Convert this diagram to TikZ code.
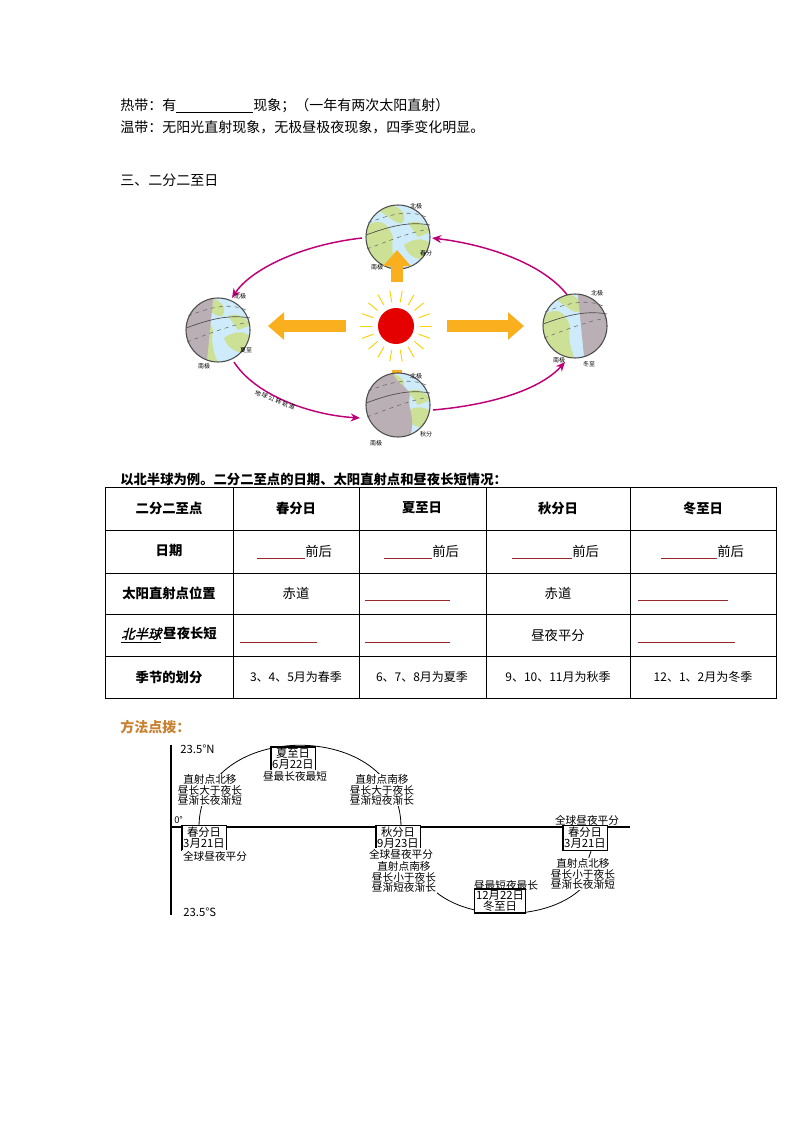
\documentclass[tikz,border=0pt]{standalone}
\usepackage{fontspec}
\setmainfont{Noto Sans CJK SC}
\newfontfamily\slantcjk[FakeSlant=0.25,FakeBold=1.5]{Noto Sans CJK SC}
\usetikzlibrary{arrows.meta,calc}
\definecolor{orb}{RGB}{190,0,120}
\definecolor{org}{RGB}{250,175,30}
\definecolor{sea}{RGB}{205,235,250}
\definecolor{land}{RGB}{205,225,150}
\definecolor{night}{RGB}{185,175,180}
\definecolor{blank}{RGB}{150,40,40}
\definecolor{brown}{RGB}{200,130,50}
\tikzset{
 txt/.style={anchor=west,font=\fontsize{10.5}{12}\selectfont,inner sep=0},
 cell/.style={font=\fontsize{10}{12}\selectfont,inner sep=0},
 tiny/.style={font=\fontsize{4.5}{5}\selectfont,inner sep=0},
 orbit/.style={orb,line width=1.1pt,-{Stealth[length=7pt,width=6pt]}},
 bigarr/.style={org,line width=9pt,-{Triangle[length=12pt,width=20pt]}},
 dl/.style={font=\fontsize{8}{8}\selectfont,inner sep=0.5pt,fill=white,align=center},
 bx/.style={draw,line width=0.9pt,inner sep=1pt,fill=white,font=\fontsize{8.5}{8.5}\selectfont,align=center},
 bl/.style={blank,line width=0.6pt}
}
\newcommand{\globe}[3]{%
 \begin{scope}[shift={#1}]
  \begin{scope}
  \clip (0,0) circle [radius=32];
  \fill[sea] (-32,-32) rectangle (32,32);
  \fill[land] (-32,-10) .. controls (-20,-20) and (-10,-15) .. (-5,0) .. controls (-8,15) and (-2,28) .. (0,33) -- (-20,30) .. controls (-34,10) .. cycle;
  \fill[land] (6,8) .. controls (20,-2) and (30,3) .. (33,8) -- (33,22) .. controls (20,24) and (10,20) .. (6,8) -- cycle;
  \fill[land] (-25,-30) .. controls (-10,-22) and (0,-10) .. (5,-15) .. controls (10,-25) and (0,-30) .. (-10,-34) -- cycle;
  \fill[land] (10,-14) .. controls (20,-18) and (28,-12) .. (33,-5) -- (20,0) -- cycle;
  #2
  \end{scope}
  \draw[black!60,dashed,line width=0.4pt] (-31,12) .. controls (-10,4) and (10,-4) .. (31,-8);
  \draw[black!60,dashed,line width=0.4pt] (-30,-14) .. controls (-10,-22) and (10,-28) .. (28,-20);
  \draw[black!70,line width=0.5pt] (-32,-2) .. controls (-10,-10) and (10,-16) .. (32,-12);
  \draw[black!70,line width=0.8pt] (0,0) circle [radius=32];
  #3
 \end{scope}}
\begin{document}
\begin{tikzpicture}[x=0.75pt,y=-0.75pt]
\useasboundingbox[fill=white] (0,0) rectangle (794,1123);
\node[txt] (t1) at (120,106) {热带：有\underline{\hspace{5.5em}}现象；（一年有两次太阳直射）};
\node[txt] (t2) at (120,127) {温带：无阳光直射现象，无极昼极夜现象，四季变化明显。};
\node[txt] (t3) at (120,180) {三、二分二至日};
% orbit
\draw[orbit] (362,238) .. controls (300,245) and (250,270) .. (232,298);
\draw[orbit] (234,362) .. controls (255,395) and (310,415) .. (360,418);
\draw[orbit] (433,410) .. controls (490,405) and (540,390) .. (565,362);
\draw[orbit] (568,296) .. controls (545,265) and (490,245) .. (432,238);
\node[tiny,rotate=-22] (orbl) at (275,400) {地\ 球\ 公\ 转\ 轨\ 道};
% sun
\foreach \a in {0,20,...,340}{\draw[yellow!70!orange,line width=0.7pt] ($(396,326)+(\a:24)$) -- ($(396,326)+(\a:36)$);}
\fill[red!90!black] (396,326) circle [radius=18];
\node (sun) at (396,326) {};
\draw[bigarr] (346,326) -- (268,326);
\draw[bigarr] (447,326) -- (524,326);
\fill[org] (392,370) rectangle (402,384);
% globes
\globe{(398,237)}{}{\node[tiny] at (18,-31) {北极}; \node[tiny] at (28,16) {春分}; \node[tiny] at (-21,30) {南极};}
\globe{(218,330)}{\fill[night] (-40,-40) -- (-4,-40) -- (-12,40) -- (-40,40) -- cycle;}{\node[tiny] at (22,-34) {北极}; \node[tiny] at (28,20) {夏至}; \node[tiny] at (-14,36) {南极};}
\globe{(575,326)}{\fill[night] (40,-40) -- (2,-40) -- (10,40) -- (40,40) -- cycle;}{\node[tiny] at (22,-33) {北极}; \node[tiny] at (-16,34) {南极}; \node[tiny] at (14,38) {冬至};}
\globe{(398,405)}{\fill[night] (-40,-40) -- (-8,-40) .. controls (-2,-18) and (8,-22) .. (12,-10) .. controls (8,5) and (20,10) .. (10,40) -- (-40,40) -- cycle;}{\node[tiny] at (18,-29) {北极}; \node[tiny] at (28,29) {秋分}; \node[tiny] at (-22,38) {南极};}
\draw[bigarr] (397,282) -- (397,250);
% table
\node[anchor=west,inner sep=0,font=\bfseries\fontsize{10}{12}\selectfont] (cap) at (120,479) {以北半球为例。二分二至点的日期、太阳直射点和昼夜长短情况：};
\draw[line width=0.6pt] (105,487) rectangle (776,698);
\foreach \y in {530,573,614,656} \draw[line width=0.6pt] (105,\y) -- (776,\y);
\foreach \x in {233,359,486,630} \draw[line width=0.6pt] (\x,487) -- (\x,698);
\node[cell] (h0) at (169,508) {\bfseries 二分二至点};
\node[cell] (h1) at (296,508) {\bfseries 春分日};
\node[cell] (h2) at (422,508) {\bfseries 夏至日};
\node[cell] (h3) at (558,508) {\bfseries 秋分日};
\node[cell] (h4) at (703,508) {\bfseries 冬至日};
\node[cell] (r1) at (169,551) {\bfseries 日期};
\node[cell] (r2) at (169,593) {\bfseries 太阳直射点位置};
\node[cell] (r3) at (169,635) {\underline{\slantcjk 北半球}\,\bfseries 昼夜长短};
\node[cell] (r4) at (169,677) {\bfseries 季节的划分};
\foreach \a/\b/\c in {257/305/305, 384/432/432, 512/572/572, 661/717/717}{\draw[bl] (\a,558) -- (\b,558); \node[cell,anchor=west] at (\c,551) {前后};}
\node[cell] at (296,593) {赤道};
\node[cell] at (558,593) {赤道};
\node[cell] at (558,635) {昼夜平分};
\draw[bl] (365,600) -- (450,600);
\draw[bl] (638,600) -- (728,600);
\draw[bl] (240,642) -- (317,642);
\draw[bl] (365,642) -- (450,642);
\draw[bl] (638,642) -- (735,642);
\node[cell,font=\fontsize{9}{11}\selectfont] at (296,677) {3、4、5月为春季};
\node[cell,font=\fontsize{9}{11}\selectfont] at (422,677) {6、7、8月为夏季};
\node[cell,font=\fontsize{9}{11}\selectfont] at (558,677) {9、10、11月为秋季};
\node[cell,font=\fontsize{9}{11}\selectfont] at (703,677) {12、1、2月为冬季};
% method
\node[anchor=west,inner sep=0,text=brown,font=\bfseries\fontsize{10.5}{12}\selectfont] (m) at (120,727) {方法点拨：};
\draw[line width=0.8pt] (171,745) -- (171,915);
\draw[line width=1.2pt] (171,827) -- (630,827);
\draw[line width=0.6pt] (199,827) .. controls (199,718) and (401,718) .. (401,827);
\draw[line width=0.6pt] (425,880) .. controls (455,925) and (560,925) .. (590,878);
\draw[line width=0.6pt] (592,848) -- (588,860);
\node[font=\fontsize{8.5}{9}\selectfont,inner sep=0,anchor=west] (n) at (180,749) {23.5°N};
\node[font=\fontsize{8.5}{9}\selectfont,inner sep=0,anchor=west] (s) at (183,912) {23.5°S};
\node[font=\fontsize{7}{8}\selectfont,inner sep=0,anchor=west] (z) at (174,820) {0°};
\node[bx] (xz) at (293,759) {夏至日\\6月22日};
\node[dl] (xz2) at (295,776) {昼最长夜最短};
\node[dl,anchor=west] (a1) at (177,790) {直射点北移\\昼长大于夜长\\昼渐长夜渐短};
\node[dl,anchor=west] (a2) at (349,790) {直射点南移\\昼长大于夜长\\昼渐短夜渐长};
\node[bx] (c1) at (204,838) {春分日\\3月21日};
\node[dl] (c1b) at (215,856) {全球昼夜平分};
\node[bx] (c2) at (398,838) {秋分日\\9月23日};
\node[dl] (c2b) at (401,854) {全球昼夜平分};
\node[dl,anchor=west] (a3) at (371,877) {直射点南移\\昼长小于夜长\\昼渐短夜渐长};
\node[dl] (w1) at (506,885) {昼最短夜最长};
\node[bx] (w2) at (500,901) {12月22日\\冬至日};
\node[dl] (c3a) at (587,820) {全球昼夜平分};
\node[bx] (c3) at (585,838) {春分日\\3月21日};
\node[dl,anchor=west] (a4) at (550,874) {直射点北移\\昼长小于夜长\\昼渐长夜渐短};
\end{tikzpicture}
\end{document}
